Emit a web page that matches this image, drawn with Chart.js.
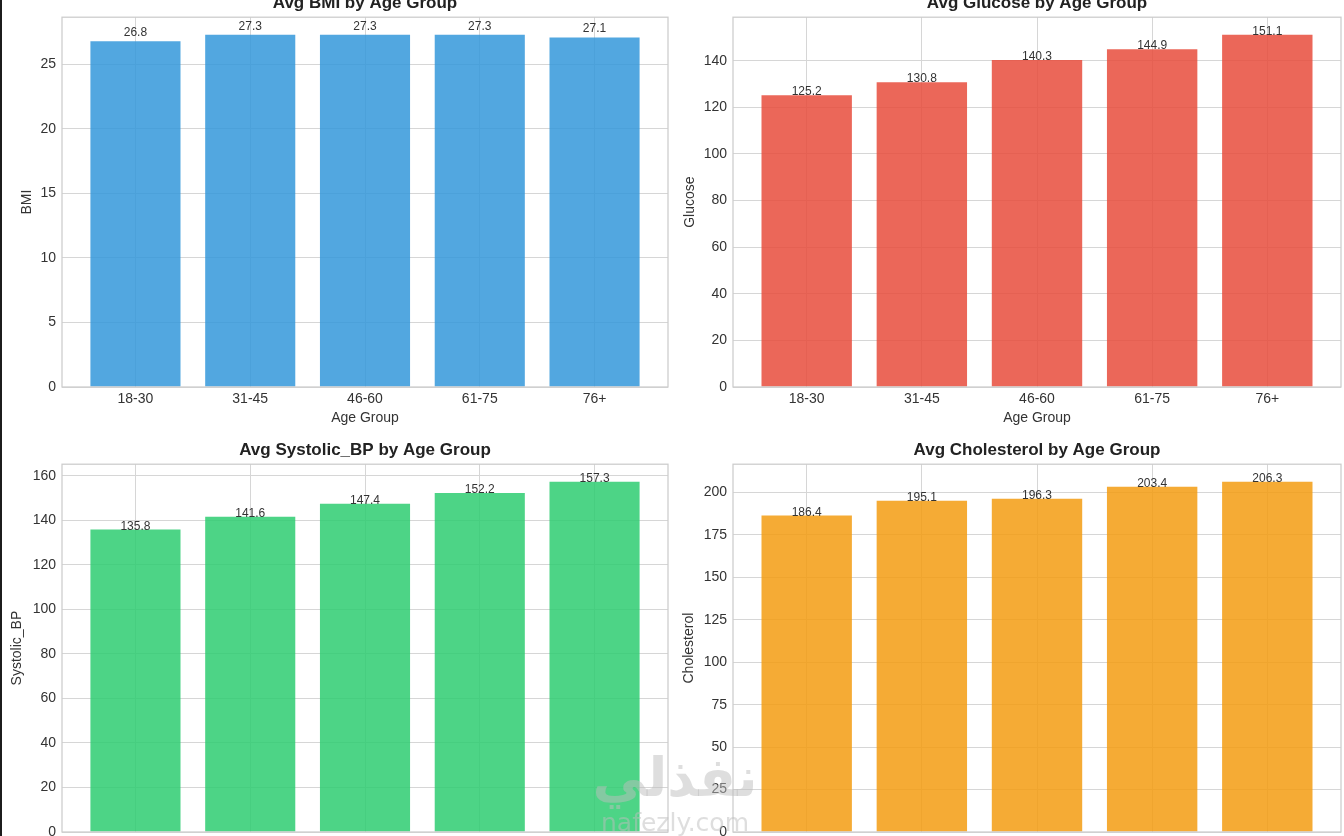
<!DOCTYPE html>
<html>
<head>
<meta charset="utf-8">
<script src="https://cdn.jsdelivr.net/npm/chart.js@4.4.0/dist/chart.umd.min.js"></script>
<style>
html, body { margin: 0; padding: 0; background: #fff; width: 1344px; height: 836px; overflow: hidden; }
canvas { position: absolute; }
#edge { position: absolute; left: 0; top: 0; width: 2px; height: 836px; background: #1c1c1c; }
.wm { position: absolute; color: rgba(190, 190, 190, 0.5); text-align: center; white-space: nowrap; }
</style>
</head>
<body>
<canvas id="bmiChart" width="680" height="461" style="left:0;top:-30px"></canvas>
<canvas id="glucoseChart" width="674" height="461" style="left:670px;top:-30px"></canvas>
<canvas id="bpChart" width="680" height="456" style="left:0;top:420px"></canvas>
<canvas id="cholChart" width="674" height="456" style="left:670px;top:420px"></canvas>
<div id="edge"></div>
<div class="wm" style="left:560px;top:746px;width:230px;font:bold 54px 'DejaVu Sans'">نفذلي</div>
<div class="wm" style="left:560px;top:808px;width:230px;font:25px 'DejaVu Sans'">nafezly.com</div>
<script>
// Datos por grupo de edad
const ageGroups = ['18-30', '31-45', '46-60', '61-75', '76+'];
const bmiValues = [26.8, 27.3, 27.3, 27.3, 27.1];
const glucoseValues = [125.2, 130.8, 140.3, 144.9, 151.1];
const systolicValues = [135.8, 141.6, 147.4, 152.2, 157.3];
const cholesterolValues = [186.4, 195.1, 196.3, 203.4, 206.3];

Chart.defaults.font.family = '"Liberation Sans", Arial, sans-serif';
Chart.defaults.color = '#333';

// etiquetas de valor encima de cada barra
const valueLabels = {
    id: 'valueLabels',
    afterDatasetsDraw(chart) {
        const ctx = chart.ctx;
        const ys = chart.scales.y;
        const ds = chart.data.datasets[0];
        ctx.save();
        ctx.font = '12px "Liberation Sans", Arial, sans-serif';
        ctx.fillStyle = '#333';
        ctx.textAlign = 'center';
        ctx.textBaseline = 'bottom';
        chart.getDatasetMeta(0).data.forEach(function(bar, i) {
            const v = ds.data[i].y;
            ctx.fillText(v.toFixed(1), bar.x, ys.getPixelForValue(v + 0.5) + 4);
        });
        ctx.restore();
    }
};

// marco del área de dibujo
const frame = {
    id: 'frame',
    afterDatasetsDraw(chart) {
        const a = chart.chartArea;
        const ctx = chart.ctx;
        ctx.save();
        ctx.strokeStyle = '#cccccc';
        ctx.lineWidth = 1.25;
        ctx.strokeRect(a.left, a.top, a.right - a.left, a.bottom - a.top);
        ctx.restore();
    }
};

function makeChart(id, title, yLabel, values, color, step, axisWidth, padRight, yTitlePad, titlePadTop) {
    const ctx = document.getElementById(id).getContext('2d');
    return new Chart(ctx, {
        type: 'bar',
        data: {
            datasets: [{
                data: values.map(function(v, i) { return { x: i, y: v }; }),
                backgroundColor: color,
                borderWidth: 0,
                barPercentage: 0.785,
                categoryPercentage: 1.0
            }]
        },
        options: {
            responsive: false,
            animation: false,
            layout: { padding: { left: 0, right: padRight, top: 0, bottom: 0 } },
            plugins: {
                legend: { display: false },
                tooltip: { enabled: false },
                title: {
                    display: true,
                    fullSize: false,
                    text: title,
                    color: '#222',
                    font: { size: 17, weight: 'bold' },
                    padding: { top: titlePadTop, bottom: 4 }
                }
            },
            scales: {
                x: {
                    type: 'linear',
                    min: -0.64,
                    max: 4.64,
                    offset: false,
                    afterFit: function(s) { s.height = 44; },
                    ticks: {
                        stepSize: 1,
                        includeBounds: false,
                        padding: 4,
                        font: { size: 14 },
                        color: '#333',
                        callback: function(v) { return ageGroups[v] !== undefined ? ageGroups[v] : ''; }
                    },
                    grid: { color: '#d6d6d6', drawTicks: false, offset: false },
                    border: { display: false },
                    title: { display: true, text: 'Age Group', font: { size: 14 }, color: '#333', padding: { top: 0, bottom: 4 } }
                },
                y: {
                    min: 0,
                    max: Math.max.apply(null, values) * 1.05,
                    afterFit: function(s) { s.width = axisWidth; },
                    ticks: { stepSize: step, includeBounds: false, padding: 6, font: { size: 14 }, color: '#333' },
                    grid: { color: '#d6d6d6', drawTicks: false },
                    border: { display: false },
                    title: { display: true, text: yLabel, font: { size: 14 }, color: '#333', padding: { top: yTitlePad } }
                }
            }
        },
        plugins: [valueLabels, frame]
    });
}

makeChart('bmiChart', 'Avg BMI by Age Group', 'BMI', bmiValues, 'rgba(52, 152, 219, 0.85)', 5, 62, 12, 18.6, 22.8);
makeChart('glucoseChart', 'Avg Glucose by Age Group', 'Glucose', glucoseValues, 'rgba(231, 76, 60, 0.85)', 20, 63, 3, 11.6, 22.8);
makeChart('bpChart', 'Avg Systolic_BP by Age Group', 'Systolic_BP', systolicValues, 'rgba(46, 204, 113, 0.85)', 20, 62, 12, 8.6, 19.8);
makeChart('cholChart', 'Avg Cholesterol by Age Group', 'Cholesterol', cholesterolValues, 'rgba(243, 156, 18, 0.85)', 25, 63, 3, 10.6, 19.8);
</script>
</body>
</html>
